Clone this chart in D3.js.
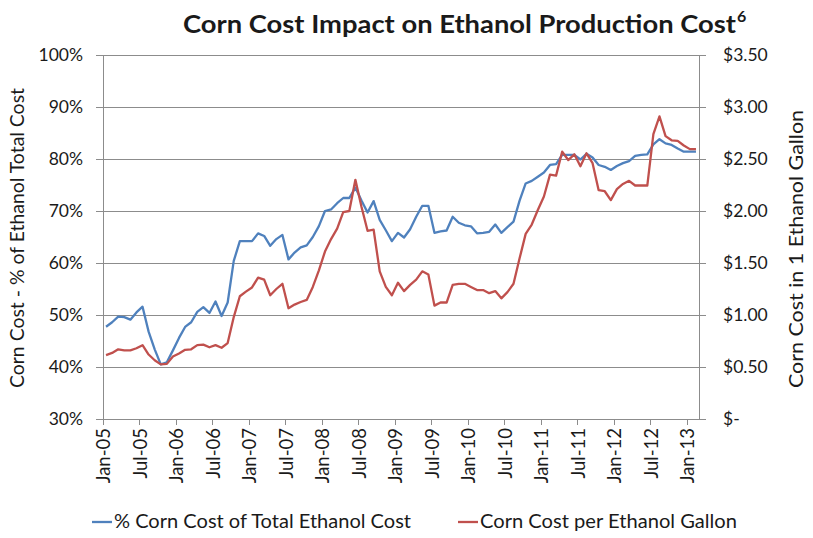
<!DOCTYPE html>
<html>
<head>
<meta charset="utf-8">
<script src="https://cdn.jsdelivr.net/npm/d3@7"></script>
<style>
  html, body { margin: 0; padding: 0; background: #fff; }
  svg text { font-family: Lato, "Open Sans", sans-serif; fill: #1a1a1a; }
</style>
</head>
<body>
<svg id="chart" width="813" height="538"></svg>
<script>
// Monthly series, Jan-05 through Feb-13
const monthCount = 98;

// % of total ethanol production cost attributable to corn
const pctCornCost = [
  47.75, 48.6, 49.7, 49.6, 49.1, 50.5, 51.6, 46.8, 43.4, 40.5, 40.9, 43.2,
  45.6, 47.7, 48.6, 50.6, 51.5, 50.4, 52.6, 49.8, 52.4, 60.4, 64.2, 64.2,
  64.2, 65.7, 65.2, 63.3, 64.6, 65.4, 60.7, 62.0, 63.0, 63.4, 65.0, 67.1,
  70.0, 70.3, 71.5, 72.5, 72.5, 74.5, 72.0, 69.7, 71.9, 68.3, 66.3, 64.2,
  65.8, 64.9, 66.5, 68.9, 71.0, 71.0, 65.8, 66.1, 66.25, 68.9, 67.75, 67.25,
  67.05, 65.7, 65.8, 66.0, 67.4, 65.8, 66.9, 67.95, 72.0, 75.3, 75.8, 76.6,
  77.4, 78.85, 79.0, 80.8, 80.8, 80.8, 79.9, 81.0, 80.3, 78.85, 78.5, 77.9,
  78.65, 79.2, 79.6, 80.6, 80.8, 80.9, 82.8, 83.8, 83.0, 82.7, 82.0, 81.4,
  81.4, 81.4
];

// Corn cost per gallon of ethanol, $
const cornCostPerGallon = [
  0.615, 0.635, 0.67, 0.66, 0.66, 0.68, 0.71, 0.62, 0.565, 0.525, 0.53, 0.60,
  0.63, 0.665, 0.67, 0.71, 0.715, 0.69, 0.71, 0.685, 0.73, 0.98, 1.18, 1.225,
  1.265, 1.36, 1.34, 1.19, 1.25, 1.30, 1.065, 1.10, 1.125, 1.145, 1.27, 1.43,
  1.61, 1.73, 1.83, 1.99, 2.00, 2.30, 2.04, 1.81, 1.82, 1.42, 1.27, 1.19,
  1.31, 1.23, 1.29, 1.34, 1.42, 1.39, 1.09, 1.12, 1.12, 1.29, 1.30, 1.30,
  1.27, 1.24, 1.24, 1.21, 1.23, 1.16, 1.22, 1.30, 1.545, 1.78, 1.87, 2.01,
  2.14, 2.35, 2.34, 2.57, 2.49, 2.545, 2.43, 2.555, 2.46, 2.20, 2.19, 2.105,
  2.21, 2.26, 2.29, 2.245, 2.245, 2.245, 2.74, 2.91, 2.72, 2.68, 2.675, 2.63,
  2.595, 2.595
];

const leftTicks = [0.3, 0.4, 0.5, 0.6, 0.7, 0.8, 0.9, 1.0];
const rightTicks = [0, 0.5, 1.0, 1.5, 2.0, 2.5, 3.0, 3.5];
const xTickLabels = ["Jan-05","Jul-05","Jan-06","Jul-06","Jan-07","Jul-07","Jan-08","Jul-08",
  "Jan-09","Jul-09","Jan-10","Jul-10","Jan-11","Jul-11","Jan-12","Jul-12","Jan-13"];

const seriesNames = ["% Corn Cost of Total Ethanol Cost", "Corn Cost per Ethanol Gallon"];
const seriesColors = ["#4F81BD", "#C0504D"];

const titleText = "Corn Cost Impact on Ethanol Production Cost";
const titleSup = "6";
const leftTitle = "Corn Cost - % of Ethanol Total Cost";
const rightTitle = "Corn Cost in 1 Ethanol Gallon";

const svg = d3.select("#chart");
const plot = { left: 103, right: 699, top: 55, bottom: 419 };
const gridColor = "#8c8c8c";

const x = d3.scaleLinear().domain([0, monthCount]).range([plot.left, plot.right]);
const yL = d3.scaleLinear().domain([0.3, 1.0]).range([plot.bottom, plot.top]);
const yR = d3.scaleLinear().domain([0, 3.5]).range([plot.bottom, plot.top]);

// horizontal gridlines
svg.append("g").selectAll("line").data(leftTicks.slice(1)).join("line")
  .attr("x1", plot.left).attr("x2", plot.right)
  .attr("y1", d => yL(d)).attr("y2", d => yL(d))
  .attr("stroke", gridColor).attr("stroke-width", 1).attr("shape-rendering", "crispEdges");

// left axis
const axL = svg.append("g").attr("transform", `translate(${plot.left},0)`)
  .call(d3.axisLeft(yL).tickValues(leftTicks).tickFormat(d3.format(".0%")).tickSize(7).tickPadding(13));
// right axis
const fmtDollar = d => d === 0 ? "$-" : "$" + d3.format(".2f")(d);
const axR = svg.append("g").attr("transform", `translate(${plot.right},0)`)
  .call(d3.axisRight(yR).tickValues(rightTicks).tickFormat(fmtDollar).tickSize(7).tickPadding(17));
// bottom axis: a tick every six months
const axB = svg.append("g").attr("transform", `translate(0,${plot.bottom})`)
  .call(d3.axisBottom(x).tickValues(xTickLabels.map((_, i) => i * 6))
    .tickFormat((d, i) => xTickLabels[i]).tickSize(6).tickSizeOuter(0));
axB.selectAll("text")
  .attr("transform", "rotate(-90)")
  .attr("text-anchor", "end")
  .attr("x", -9).attr("y", 0).attr("dy", "0.36em");

[axL, axR, axB].forEach(g => {
  g.selectAll("path,line").attr("stroke", gridColor).attr("shape-rendering", "crispEdges");
  g.selectAll("text").style("font-size", "17.5px").attr("fill", "#1a1a1a");
});
axB.selectAll("text").style("font-size", "18.5px");
axL.select(".domain").attr("d", `M-7,${plot.top}H0V${plot.bottom}H-7`);
axR.select(".domain").attr("d", `M7,${plot.top}H0V${plot.bottom}H7`);

// series lines
const lineL = d3.line().x((d, i) => x(i + 0.5)).y(d => yL(d / 100));
const lineR = d3.line().x((d, i) => x(i + 0.5)).y(d => yR(d));
svg.append("path").datum(pctCornCost).attr("d", lineL)
  .attr("fill", "none").attr("stroke", seriesColors[0]).attr("stroke-width", 2.3).attr("stroke-linejoin", "round");
svg.append("path").datum(cornCostPerGallon).attr("d", lineR)
  .attr("fill", "none").attr("stroke", seriesColors[1]).attr("stroke-width", 2.3).attr("stroke-linejoin", "round");

// title
const t = svg.append("text").attr("x", 183).attr("y", 33).attr("text-anchor", "start")
  .attr("textLength", 553).attr("lengthAdjust", "spacingAndGlyphs")
  .style("font-size", "24px").style("font-weight", "bold").text(titleText);
svg.append("text").attr("x", 737).attr("y", 22).style("font-size", "16px").style("font-weight", "bold").text(titleSup);

// axis titles
svg.append("text").attr("transform", "translate(24,238) rotate(-90)").attr("text-anchor", "middle")
  .attr("textLength", 300).attr("lengthAdjust", "spacingAndGlyphs")
  .style("font-size", "18.5px").text(leftTitle);
svg.append("text").attr("transform", "translate(803,249) rotate(-90)").attr("text-anchor", "middle")
  .attr("textLength", 278).attr("lengthAdjust", "spacingAndGlyphs")
  .style("font-size", "18.5px").text(rightTitle);

// legend
const legendX = [92, 458];
const legendTextLen = [297, 257];
const lg = svg.append("g").selectAll("g").data(seriesNames).join("g")
  .attr("transform", (d, i) => `translate(${legendX[i]},522)`);
lg.append("line").attr("x1", 0).attr("x2", 20).attr("y1", 0).attr("y2", 0)
  .attr("stroke", (d, i) => seriesColors[i]).attr("stroke-width", 2.3);
lg.append("text").attr("x", 22).attr("dy", "0.35em")
  .attr("textLength", (d, i) => legendTextLen[i]).attr("lengthAdjust", "spacingAndGlyphs")
  .style("font-size", "18.5px").text(d => d);
</script>
</body>
</html>
